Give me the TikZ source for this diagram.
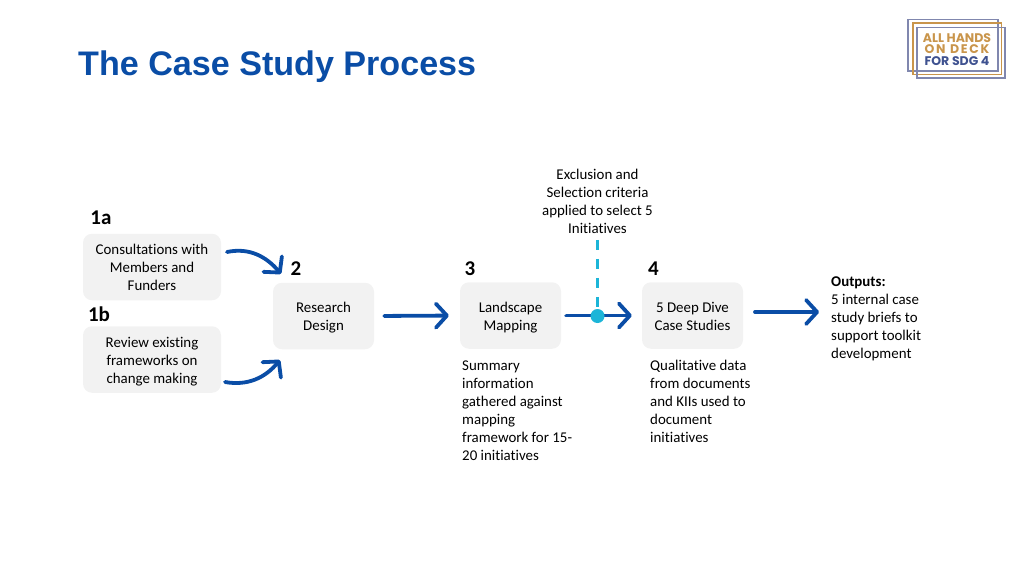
\documentclass[tikz,border=0pt]{standalone}
\usepackage{fontspec}
\setmainfont{Carlito}[Ligatures=NoCommon]
\newfontfamily\titlefont{Liberation Sans}
\newfontfamily\logofont{Poppins}
\newfontfamily\logowide{Poppins}[LetterSpace=14]
\usetikzlibrary{arrows.meta}

\definecolor{flowblue}{HTML}{0A4DA6}
\definecolor{dotcyan}{HTML}{1CB5D8}
\definecolor{boxgrey}{HTML}{F2F2F2}
\definecolor{logotan}{HTML}{C9954B}
\definecolor{logoblue}{HTML}{3F5290}
\definecolor{logoline}{HTML}{8087AE}

\newcommand{\toprow}{\rule{0pt}{16.6pt}}

\tikzset{
  stepbox/.style={fill=boxgrey, rounded corners=9pt, minimum height=66.5pt, align=center, inner sep=0pt, execute at end node=\strut, font=\fontsize{14.9}{18}\selectfont},
  stepnum/.style={inner sep=0pt, font=\fontsize{21}{22}\selectfont\bfseries},
  note/.style={inner sep=0pt, align=left, anchor=north west, font=\fontsize{14.9}{18}\selectfont},
  logotext/.style={inner sep=0pt, anchor=base, font=\fontsize{12.5}{12.5}\selectfont\bfseries},
  flow/.style={draw=flowblue, line width=3.8pt, line cap=round, -{Straight Barb[length=11pt,width=24pt,round]}},
}

\begin{document}
\begin{tikzpicture}[x=1pt, y=-1pt]
  \useasboundingbox (0,0) rectangle (1024,576);

  % title
  \node [anchor=west, inner sep=0pt, text=flowblue, font=\fontsize{34.1}{36}\selectfont\titlefont\bfseries](title) at (78,67) {The Case Study Process};

  % logo
  \draw [logoline, line width=1.6pt] (908,19.5) rectangle (998,71);
  \draw [logotan, line width=1.6pt] (913,23) rectangle (1001.5,74.5);
  \draw [logoline, line width=1.6pt] (917,27.5) rectangle (1005,78);
  \node [logotext, text=logotan](logoa) at (957,42) {\logofont ALL HANDS};
  \node [logotext, text=logotan](logob) at (957,53.5) {\logowide ON DECK};
  \node [logotext, text=logoblue](logoc) at (957,65) {\logofont FOR SDG 4};

  % boxes
  \node [stepbox, minimum width=138pt](consult) at (152,267) {\toprow Consultations with\\Members and\\Funders};
  \node [stepbox, minimum width=138pt](review) at (152,359.5) {\toprow Review existing\\frameworks on\\change making};
  \node [stepbox, minimum width=101pt](research) at (323.5,316) {\toprow Research\\Design};
  \node [stepbox, minimum width=101pt](landscape) at (510.5,315.5) {\toprow Landscape\\Mapping};
  \node [stepbox, minimum width=101pt](deepdive) at (692.5,315.5) {\toprow 5 Deep Dive\\Case Studies};

  \node [stepnum](numa) at (101,218) {1a};
  \node [stepnum](numb) at (99,314) {1b};
  \node [stepnum](numtwo) at (296,269) {2};
  \node [stepnum](numthree) at (470,269) {3};
  \node [stepnum](numfour) at (653.5,269) {4};

  % notes
  \node [inner sep=0pt, align=center, font=\fontsize{14.9}{18}\selectfont](criteria) at (597.5,201.5) {Exclusion and\\Selection criteria\\applied to select 5\\Initiatives};
  \node [note](summary) at (462,361) {Summary\\information\\gathered against\\mapping\\framework for 15-\\20 initiatives};
  \node [note](qualdata) at (650,360) {Qualitative data\\from documents\\and KIIs used to\\document\\initiatives};
  \node [note](outputs) at (831,277) {\textbf{Outputs:}\\5 internal case\\study briefs to\\support toolkit\\development};

  \coordinate (consultout) at (227,252);
  \coordinate (researchtop) at (281,274);
  \coordinate (reviewout) at (225,382);
  \coordinate (researchbot) at (280,360);
  \coordinate (deepout) at (755,312);
  \coordinate (outputsin) at (819,312);

  \draw [flow] (consultout) to [out=12, in=130] (researchtop);
  \draw [flow] (reviewout) to [out=-10, in=-130] (researchbot);
  \draw [flow, shorten <=10pt, shorten >=11pt] (research.east) -- (landscape.west);
  \draw [flow, shorten <=5pt, shorten >=10pt] (landscape.east) -- (deepdive.west);
  \draw [flow] (deepout) -- (outputsin);

  \node [circle, fill=dotcyan, inner sep=0pt, minimum size=14pt](dot) at (597.5,316) {};
  \draw [dotcyan, line width=3pt, dash pattern=on 10pt off 9pt, shorten <=6pt] (criteria.south) -- (dot.center);
\end{tikzpicture}
\end{document}
